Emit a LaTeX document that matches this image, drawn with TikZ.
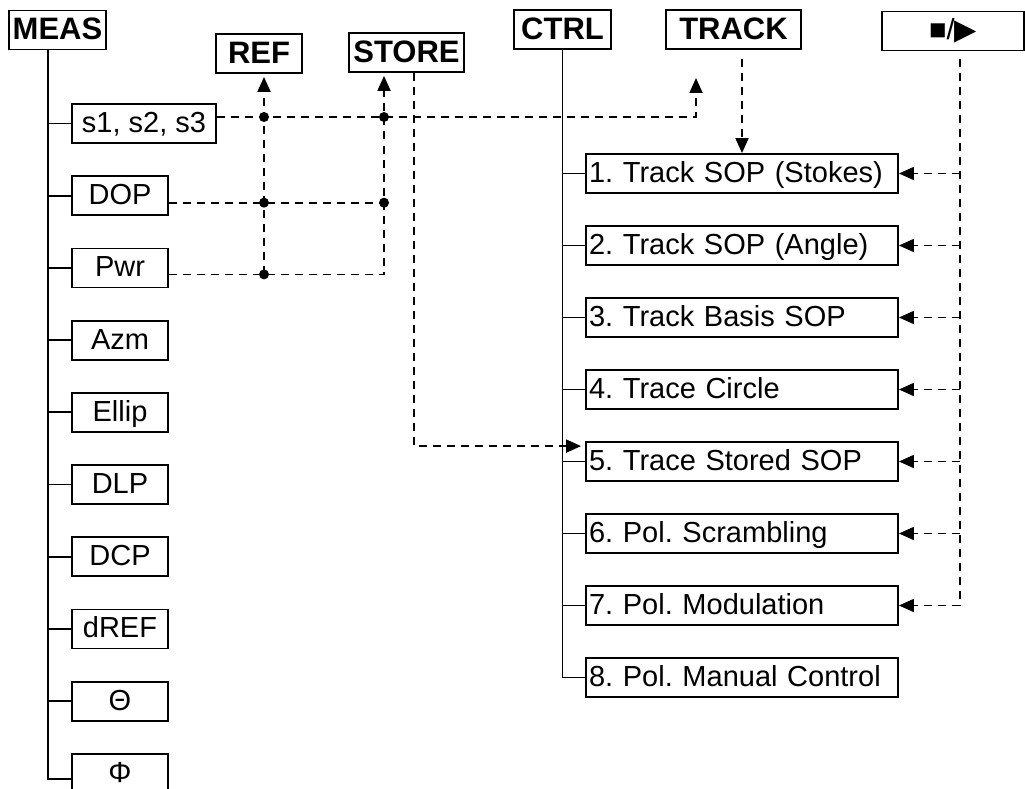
\documentclass[tikz,border=0pt]{standalone}
\usepackage{fontspec}
\setmainfont{Liberation Sans}
\newfontfamily\symfont{DejaVu Sans}
\usetikzlibrary{positioning,arrows.meta}
\frenchspacing

\tikzset{
  head/.style={draw, line width=1.8pt, inner sep=0pt, minimum height=39pt,
    font=\fontsize{31}{33}\selectfont\bfseries, text height=20pt, text depth=0pt},
  item/.style={draw, line width=1.8pt, inner sep=0pt, minimum height=39pt,
    minimum width=96pt, font=\fontsize{29}{31}\selectfont, text height=18pt, text depth=0pt},
  mode/.style={item, inner xsep=3pt, text width=306pt, align=left},
  tree/.style={line width=1.8pt},
  link/.style={line width=1.8pt, dash pattern=on 8pt off 6pt},
  tip/.style={-{Triangle[length=15pt,width=13pt]}},
}

\begin{document}
\begin{tikzpicture}[x=1pt, y=-1pt]
  \useasboundingbox (0,0) rectangle (1025,789);

% Nodes
  \node[head, minimum width=97pt]  (meas)  at (57.5,30)    {MEAS}; %
  \node[head, minimum width=86pt]  (ref)   at (259,53.5)   {REF}; %
  \node[head, minimum width=115pt] (store) at (406.5,52.5) {STORE}; %
  \node[head, minimum width=97pt]  (ctrl)  at (562.5,29.5) {CTRL}; %
  \node[head, minimum width=135pt] (track) at (733.5,29.5) {TRACK}; %
  \node[item, minimum width=142pt] (play)  at (953,31)     {■/{\symfont ▶}}; %

  \node[item, minimum width=144pt] (s1) at (144,123.5) {s1, s2, s3}; %
  \node[item, below = 31.4pt of s1.south west, anchor=north west] (dop) {DOP}; %
  \node[item, below = 31.4pt of dop]   (pwr)   {Pwr}; %
  \node[item, below = 31.4pt of pwr]   (azm)   {Azm}; %
  \node[item, below = 31.4pt of azm]   (ellip) {Ellip}; %
  \node[item, below = 31.4pt of ellip] (dlp)   {DLP}; %
  \node[item, below = 31.4pt of dlp]   (dcp)   {DCP}; %
  \node[item, below = 31.4pt of dcp]   (dref)  {dREF}; %
  \node[item, below = 31.4pt of dref]  (theta) {Θ}; %
  \node[item, below = 31.4pt of theta] (phi)   {Φ}; %

  \node[mode] (t1) at (742,173.5) {1. Track SOP (Stokes)}; %
  \node[mode, below = 31.2pt of t1] (t2) {2. Track SOP (Angle)}; %
  \node[mode, below = 31.2pt of t2] (t3) {3. Track Basis SOP}; %
  \node[mode, below = 31.2pt of t3] (t4) {4. Trace Circle}; %
  \node[mode, below = 31.2pt of t4] (t5) {5. Trace Stored SOP}; %
  \node[mode, below = 31.2pt of t5] (t6) {6. Pol. Scrambling}; %
  \node[mode, below = 31.2pt of t6] (t7) {7. Pol. Modulation}; %
  \node[mode, below = 31.2pt of t7] (t8) {8. Pol. Manual Control}; %

  \coordinate (mtrunk)   at ([xshift=-9.5pt]meas.south);
  \coordinate (s1out)    at ([yshift=6.5pt]s1.east);
  \coordinate (dopout)   at ([yshift=-7pt]dop.east);
  \coordinate (pwrout)   at ([yshift=-6.5pt]pwr.east);
  \coordinate (refcol)   at ([xshift=5pt]ref.south);
  \coordinate (storecol) at ([xshift=-22.5pt]store.south);
  \coordinate (trkin)    at (696,78);
  \coordinate (t5in)     at ([yshift=-5pt]t5.north west);
  \coordinate (pcol)     at ([xshift=7pt]play.south);

% Trees
  \draw[tree] (mtrunk) |- ([yshift=-6pt]phi.west);
  \foreach \n in {s1,dop,pwr,azm,ellip,dlp,dcp,dref,theta}
    \draw[tree] (\n.west) -- (\n.west -| mtrunk);
  \draw[tree] (ctrl.south) |- (t8.west);
  \foreach \n in {t1,t2,t3,t4,t5,t6,t7}
    \draw[tree] (\n.west) -- (\n.west -| ctrl.south);

% Edges
  \draw[link, tip] (s1out) -| (trkin);
  \draw[link] (dopout) -- (dopout -| storecol);
  \draw[link, tip, shorten >=3pt] (pwrout) -| (storecol);
  \draw[link, tip, shorten >=3pt] (pwrout -| refcol) -- (refcol);
  \foreach \a/\b in {s1out/refcol, s1out/storecol, dopout/refcol, dopout/storecol, pwrout/refcol}
    \fill (\a -| \b) circle (5pt);

  \draw[link, tip, shorten >=4pt] ([xshift=7.5pt]store.south) |- (t5in);
  \draw[link, tip, shorten <=9pt] (t1.north |- track.south) -- (t1.north);

  \draw[link, shorten <=8pt] (pcol) -- (pcol |- t7.east);
  \foreach \n in {t1,t2,t3,t4,t5,t6,t7}
    \draw[link, tip] (pcol |- \n.east) -- (\n.east);

\end{tikzpicture}
\end{document}
